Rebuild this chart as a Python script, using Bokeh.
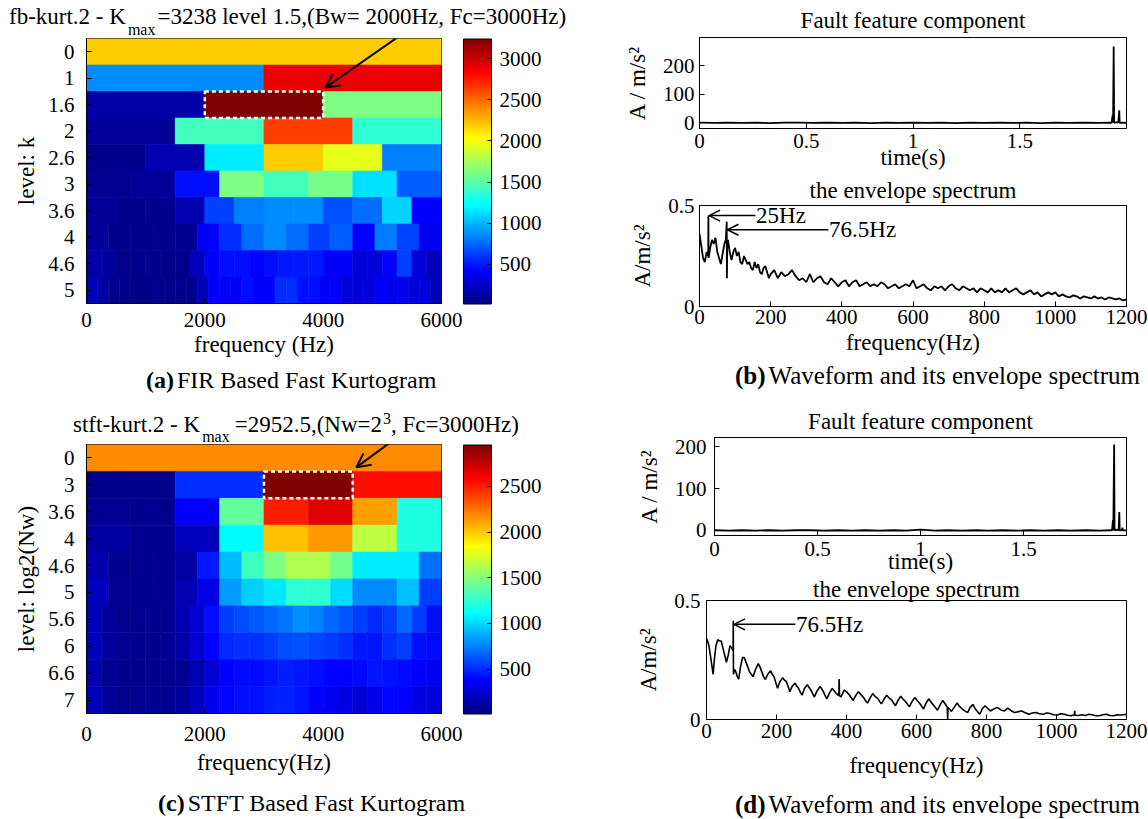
from bokeh.plotting import figure
from bokeh.models import (ColumnDataSource, LinearColorMapper, ColorBar, FixedTicker,
                          Label, Arrow, OpenHead, Range1d, Div, Title)
from bokeh.layouts import row, column
from bokeh.embed import file_html
from bokeh.resources import INLINE

SERIF = "Liberation Serif"

# ---------------- data : FIR based fast kurtogram (a) ----------------
fb_levels = ["0", "1", "1.6", "2", "2.6", "3", "3.6", "4", "4.6", "5"]
fb_row_0 = [2192]
fb_row_1 = [873, 2892]
fb_row_16 = [150, 3238, 1629]
fb_row_2 = [100, 1428, 2635, 1370]
fb_row_26 = [70, 180, 1170, 2192, 1950, 825]
fb_row_3 = [90, 100, 470, 1629, 1428, 1600, 1130, 720]
fb_row_36 = [100, 60, 60, 180, 630, 825, 870, 870, 680, 770, 1100, 430]
fb_row_4 = [120, 60, 60, 60, 80, 400, 570, 770, 870, 770, 630, 720, 420, 820, 630, 370]
fb_row_46 = [150, 120, 60, 60, 60, 60, 60, 200, 400, 460, 460, 420,
             460, 510, 510, 510, 400, 400, 300, 300, 420, 630, 300, 200]
fb_row_5 = [200, 150, 70, 60, 50, 50, 60, 60, 70, 80, 200, 400, 400, 400, 460, 420,
            420, 570, 570, 460, 460, 400, 400, 300, 300, 300, 420, 360, 360, 300, 300, 200]
fb_rows = [fb_row_0, fb_row_1, fb_row_16, fb_row_2, fb_row_26,
           fb_row_3, fb_row_36, fb_row_4, fb_row_46, fb_row_5]
fb_low, fb_high = 20, 3238
fb_cb_ticks = [500, 1000, 1500, 2000, 2500, 3000]

# ---------------- data : STFT based fast kurtogram (c) ----------------
st_levels = ["0", "3", "3.6", "4", "4.6", "5", "5.6", "6", "6.6", "7"]
st_row_0 = [2172]
st_row_3 = [50, 510, 2952.5, 2540]
st_row_36 = [65, 65, 376, 1389, 2493, 2674, 2122, 1204]
st_row_4 = [102, 60, 192, 1112, 2032, 2142, 1664, 1204]
st_row_46 = [140, 60, 60, 60, 120, 450, 925, 1290, 1480, 1620, 1620, 1440, 1060, 1060, 1060, 700]
st_row_5 = [190, 70, 60, 60, 150, 310, 830, 980, 1050, 1250, 1250, 1010, 780, 780, 930, 560]
st_row_56 = [170, 80, 60, 60, 60, 70, 150, 250, 420, 560, 600, 640,
             680, 720, 800, 760, 680, 620, 560, 500, 560, 680, 560, 420]
st_row_6 = [190, 90, 70, 60, 60, 70, 130, 250, 380, 500, 520, 520,
            560, 600, 610, 580, 560, 520, 450, 440, 520, 560, 420, 400]
st_row_66 = [140, 70, 50, 50, 50, 60, 70, 150, 260, 380, 400, 400,
             440, 460, 440, 420, 380, 380, 400, 440, 430, 400, 370, 350]
st_row_7 = [170, 80, 60, 60, 60, 70, 90, 200, 330, 390, 420, 430,
            460, 470, 440, 380, 340, 300, 250, 320, 390, 380, 300, 280]
st_rows = [st_row_0, st_row_3, st_row_36, st_row_4, st_row_46,
           st_row_5, st_row_56, st_row_6, st_row_66, st_row_7]
st_low, st_high = 8, 2952.5
st_cb_ticks = [500, 1000, 1500, 2000, 2500]

# ---------------- data : waveform (b) ----------------
wave_b_t = [0, 0.07, 0.13, 0.2, 0.27, 0.33, 0.4, 0.47, 0.53, 0.6,
            0.67, 0.73, 0.8, 0.87, 0.93, 1.0, 1.07, 1.13, 1.2, 1.27,
            1.33, 1.4, 1.47, 1.53, 1.6, 1.67, 1.73, 1.8, 1.87, 1.925,
            1.93, 1.935, 1.937, 1.94, 1.942, 1.95, 1.962, 1.966, 1.968, 1.98, 2.0]
wave_b_a = [0.5, -0.5, 1, -0.5, 0.5, -1, 0.5, 1, -0.5, 0.5,
            -0.5, 1, -1, 0.5, -0.5, 1, -0.5, 0.5, -1, 0.5,
            -0.5, 1, -0.5, 0.5, -1, 0.5, -0.5, 1, -0.5, 0.5,
            0, 26, 0, 268, 0, 2, 1, 44, 0, 1, 0]

# ---------------- data : envelope spectrum (b) ----------------
env_b_f = [0, 5, 10, 15, 20, 24.5, 25, 25.5, 30, 35,
           40, 45, 50, 55, 60, 65, 70, 74, 76.5, 77,
           78, 80, 85, 90, 95, 100, 105, 110, 115, 120,
           125, 130, 135, 140, 145, 150, 155, 160, 165, 170,
           175, 180, 185, 190, 195, 200,
           210, 220, 230, 240, 250, 260, 270, 280, 290, 300,
           310, 320, 330, 340, 350, 360, 370, 380, 390, 400,
           410, 420, 430, 440, 450, 460, 470, 480, 490, 500,
           510, 520, 530, 540, 550, 560, 570, 580, 590, 600,
           610, 620, 630, 640, 650, 660, 670, 680, 690, 700,
           710, 720, 730, 740, 750, 760, 770, 780, 790, 800,
           810, 820, 830, 840, 850, 860, 870, 880, 890, 900,
           910, 920, 930, 940, 950, 960, 970, 980, 990, 1000,
           1010, 1020, 1030, 1040, 1050, 1060, 1070, 1080, 1090, 1100,
           1110, 1120, 1130, 1140, 1150, 1160, 1170, 1180, 1190, 1200]
env_b_a = [0.36, 0.30, 0.24, 0.22, 0.27, 0.25, 0.45, 0.24, 0.29, 0.33,
           0.31, 0.34, 0.27, 0.24, 0.21, 0.26, 0.31, 0.33, 0.42, 0.14,
           0.30, 0.33, 0.27, 0.23, 0.27, 0.29, 0.25, 0.27, 0.22, 0.21,
           0.25, 0.23, 0.21, 0.22, 0.19, 0.18, 0.22, 0.19, 0.21, 0.17,
           0.16, 0.19, 0.20, 0.17, 0.14, 0.16,
           0.18, 0.14, 0.17, 0.15, 0.16, 0.18, 0.15, 0.13, 0.14, 0.12,
           0.16, 0.12, 0.14, 0.15, 0.12, 0.11, 0.14, 0.12, 0.10, 0.12,
           0.13, 0.10, 0.12, 0.13, 0.10, 0.11, 0.12, 0.10, 0.11, 0.10,
           0.12, 0.11, 0.09, 0.10, 0.11, 0.09, 0.10, 0.11, 0.10, 0.13,
           0.09, 0.10, 0.11, 0.09, 0.08, 0.10, 0.09, 0.10, 0.08, 0.10,
           0.11, 0.09, 0.08, 0.10, 0.09, 0.08, 0.09, 0.07, 0.09, 0.08,
           0.07, 0.09, 0.07, 0.08, 0.07, 0.09, 0.07, 0.08, 0.09, 0.07,
           0.06, 0.07, 0.08, 0.06, 0.07, 0.05, 0.06, 0.07, 0.06, 0.07,
           0.05, 0.06, 0.05, 0.045, 0.055, 0.05, 0.04, 0.05, 0.045, 0.04,
           0.05, 0.04, 0.045, 0.035, 0.045, 0.04, 0.035, 0.04, 0.03, 0.035]
peaks_b_f = [25, 76.5]
peaks_b_txt = ["25Hz", "76.5Hz"]

# ---------------- data : waveform (d) ----------------
wave_d_t = [0, 0.07, 0.13, 0.2, 0.27, 0.33, 0.4, 0.47, 0.53, 0.6,
            0.67, 0.73, 0.8, 0.87, 0.93, 1.0, 1.07, 1.13, 1.2, 1.27,
            1.33, 1.4, 1.47, 1.53, 1.6, 1.67, 1.73, 1.8, 1.87, 1.925,
            1.93, 1.934, 1.936, 1.94, 1.942, 1.95, 1.962, 1.965, 1.967, 1.978,
            1.98, 1.982, 2.0]
wave_d_a = [0.5, -0.5, 0.5, -0.5, 0.5, -0.5, 0.5, 0.5, -0.5, 0.5,
            -0.5, 0.5, -0.5, 0.5, -0.5, 2, -0.5, 0.5, -0.5, 0.5,
            -0.5, 0.5, -0.5, 0.5, -0.5, 0.5, -0.5, 0.5, -0.5, 0.5,
            0, 25, 0, 205, 0, 2, 1, 44, 0, 1,
            7, 0, 0]

# ---------------- data : envelope spectrum (d) ----------------
env_d_f = [0, 3, 7, 11, 15, 19, 23, 27, 32, 37,
           42, 47, 52, 57, 62, 67, 72, 76, 76.5, 77,
           80, 84, 88, 92, 97, 103, 108, 113, 118, 123,
           128, 133, 140, 148, 153, 158, 163, 168, 175, 183,
           188, 193, 198, 203, 210, 218, 223, 228, 233, 238,
           245, 253, 258, 263, 268, 273, 280, 288, 293, 298,
           303, 308, 316, 324, 329, 334, 339, 344, 351, 359,
           365, 371, 378, 379, 380, 384, 389, 394, 401, 409,
           414, 419, 426, 434, 441, 449, 454, 460, 467, 475,
           482, 490, 495, 500, 507, 515, 522, 530, 535, 540,
           547, 555, 562, 570, 575, 580, 587, 595, 602, 610,
           615, 620, 627, 635, 642, 650, 655, 660, 667, 675,
           682, 688, 689, 690, 694, 700, 708, 716, 723, 731,
           738, 746, 753, 761, 766, 771, 776, 781, 788, 796,
           803, 811, 821, 831, 841, 851, 861, 871, 881, 891,
           901, 911, 921, 931, 941, 951, 962, 972, 982, 992,
           1002, 1012, 1022, 1032, 1042, 1051, 1052, 1053, 1062, 1072,
           1082, 1092, 1102, 1112, 1122, 1132, 1143, 1153, 1163, 1173,
           1183, 1192, 1200]
env_d_a = [0.34, 0.33, 0.31, 0.27, 0.23, 0.19, 0.26, 0.31, 0.335, 0.33,
           0.33, 0.30, 0.27, 0.24, 0.27, 0.31, 0.30, 0.29, 0.415, 0.19,
           0.21, 0.20, 0.18, 0.17, 0.22, 0.26, 0.26, 0.24, 0.22, 0.20,
           0.19, 0.18, 0.21, 0.235, 0.22, 0.20, 0.18, 0.168, 0.19, 0.205,
           0.19, 0.18, 0.155, 0.131, 0.16, 0.175, 0.165, 0.16, 0.14, 0.117,
           0.14, 0.153, 0.14, 0.131, 0.115, 0.102, 0.13, 0.146, 0.135, 0.124,
           0.11, 0.095, 0.12, 0.138, 0.13, 0.117, 0.10, 0.087, 0.11, 0.131,
           0.12, 0.109, 0.10, 0.17, 0.10, 0.095, 0.11, 0.124, 0.115, 0.102,
           0.09, 0.08, 0.10, 0.117, 0.105, 0.092, 0.08, 0.069, 0.09, 0.109,
           0.097, 0.087, 0.075, 0.066, 0.085, 0.102, 0.09, 0.08, 0.068, 0.058,
           0.08, 0.098, 0.085, 0.073, 0.062, 0.054, 0.075, 0.092, 0.08, 0.066,
           0.055, 0.044, 0.068, 0.087, 0.072, 0.058, 0.048, 0.039, 0.06, 0.08,
           0.065, 0.051, 0.0, 0.05, 0.045, 0.034, 0.052, 0.069, 0.055, 0.044,
           0.036, 0.029, 0.05, 0.063, 0.05, 0.039, 0.03, 0.022, 0.045, 0.058,
           0.047, 0.036, 0.044, 0.051, 0.04, 0.036, 0.048, 0.036, 0.029, 0.033,
           0.036, 0.028, 0.022, 0.027, 0.029, 0.024, 0.022, 0.027, 0.025, 0.02,
           0.019, 0.024, 0.022, 0.018, 0.016, 0.02, 0.036, 0.018, 0.017, 0.02,
           0.017, 0.022, 0.02, 0.016, 0.016, 0.02, 0.022, 0.017, 0.016, 0.02,
           0.019, 0.02, 0.022]
peaks_d_f = [76.5]
peaks_d_txt = ["76.5Hz"]


# ---------------- helpers ----------------
def jet(n=256):
    cols = []
    for i in range(n):
        t = i / (n - 1)
        r = min(max(min(4 * t - 1.5, -4 * t + 4.5), 0), 1)
        g = min(max(min(4 * t - 0.5, -4 * t + 3.5), 0), 1)
        b = min(max(min(4 * t + 0.5, -4 * t + 2.5), 0), 1)
        cols.append("#%02x%02x%02x" % (round(r * 255), round(g * 255), round(b * 255)))
    return cols


JET = jet()


def base_fig(width, height, bl, br, bt, bb, xr, yr):
    p = figure(width=width, height=height, x_range=xr, y_range=yr,
               output_backend="svg", toolbar_location=None, tools="", title=None,
               min_border_left=bl, min_border_right=br,
               min_border_top=bt, min_border_bottom=bb)
    try:
        p.frame_align = False
    except Exception:
        pass
    p.grid.visible = False
    p.outline_line_color = "black"
    p.outline_line_width = 1
    p.background_fill_color = "white"
    p.border_fill_color = "white"
    for ax in (p.xaxis[0], p.yaxis[0]):
        ax.major_tick_in = 5
        ax.major_tick_out = 0
        ax.minor_tick_line_color = None
        ax.axis_line_color = "black"
        ax.major_tick_line_color = "black"
        ax.major_label_text_font = SERIF
        ax.major_label_text_font_size = "21px"
        ax.major_label_text_color = "black"
        ax.axis_label_text_font = SERIF
        ax.axis_label_text_font_size = "23px"
        ax.axis_label_text_font_style = "normal"
        ax.axis_label_text_color = "black"
    return p


def set_title(p, text, standoff):
    p.title = Title(text=text, align="center", text_font=SERIF, text_font_size="23px",
                    text_font_style="normal", text_color="black", standoff=standoff)


def html_div(html, width, height):
    return Div(text=html, width=width, height=height, margin=(0, 0, 0, 0))


BASE = ("font-family:'Liberation Serif','Times New Roman',serif; color:black; "
        "white-space:nowrap; margin:0;")


def kurtogram(rows, levels, low, high, cb_ticks, height, bt, bb):
    p = base_fig(600, height, 86, 159, bt, bb, Range1d(0, 6000), Range1d(len(rows), 0))
    left, right, top, bottom, val = [], [], [], [], []
    for i, vals in enumerate(rows):
        n = len(vals)
        for k, v in enumerate(vals):
            left.append(6000 * k / n)
            right.append(6000 * (k + 1) / n)
            top.append(i)
            bottom.append(i + 1)
            val.append(v)
    src = ColumnDataSource(dict(left=left, right=right, top=top, bottom=bottom, val=val))
    mapper = LinearColorMapper(palette=JET, low=low, high=high)
    p.quad(left="left", right="right", top="top", bottom="bottom", source=src,
           fill_color={"field": "val", "transform": mapper},
           line_color={"field": "val", "transform": mapper}, line_width=0.6)
    im = max(range(len(val)), key=lambda j: val[j])
    p.quad(left=[left[im]], right=[right[im]], top=[top[im]], bottom=[bottom[im]],
           fill_color=None, line_color="white", line_dash="4 3", line_width=2.5)
    p.xaxis.ticker = FixedTicker(ticks=[0, 2000, 4000, 6000])
    p.yaxis.ticker = FixedTicker(ticks=[i + 0.5 for i in range(len(levels))])
    p.yaxis.major_label_overrides = {i + 0.5: lv for i, lv in enumerate(levels)}
    cb = ColorBar(color_mapper=mapper, ticker=FixedTicker(ticks=cb_ticks),
                  width=28, height=height - bt - bb, location="center_left",
                  margin=0, padding=22, label_standoff=8,
                  major_label_text_font=SERIF, major_label_text_font_size="21px",
                  major_label_text_color="black",
                  major_tick_in=4, major_tick_out=0, major_tick_line_color="black",
                  bar_line_color="black", bar_line_width=1,
                  border_line_color=None, background_fill_alpha=0)
    p.add_layout(cb, "right")
    return p, left[im], right[im], top[im]


# ---------------- (a) ----------------
div_ta = html_div(
    f'<div style="{BASE} font-size:23px; line-height:26px; padding:4px 0 0 9px;">'
    'fb-kurt.2 - K<span style="font-size:16px; position:relative; top:11px; '
    'margin:0 2px 0 2px;">max</span>=3238 level 1.5,(Bw= 2000Hz, Fc=3000Hz)</div>', 600, 36)
pa, a_l, a_r, a_t = kurtogram(fb_rows, fb_levels, fb_low, fb_high, fb_cb_ticks, 330, 2, 63)
pa.xaxis.axis_label = "frequency (Hz)"
pa.yaxis.axis_label = "level: k"
pa.xaxis.major_label_standoff = 9
pa.xaxis.axis_label_standoff = 2
pa.yaxis.major_label_standoff = 12
pa.yaxis.axis_label_standoff = 6
pa.add_layout(Arrow(end=OpenHead(size=14, line_width=2, line_color="black"),
                    x_start=a_r + 1420, y_start=a_t - 2.3, x_end=a_r + 40, y_end=a_t - 0.15,
                    line_width=2, line_color="black"))
div_ca = html_div(
    f'<div style="{BASE} font-size:24px; line-height:28px; padding-left:146px;">'
    '<b>(a)</b><span style="margin-left:3px;">FIR Based Fast Kurtogram</span></div>', 600, 28)

# ---------------- (c) ----------------
div_tc = html_div(
    f'<div style="{BASE} font-size:23px; line-height:26px; padding:18px 0 0 73px;">'
    'stft-kurt.2 - K<span style="font-size:16px; position:relative; top:10px; '
    'margin:0 5px 0 2px;">max</span>=2952.5,(Nw=2<span style="font-size:16px; '
    'position:relative; top:-8px; margin-left:1px;">3</span>, Fc=3000Hz)</div>', 600, 48)
pc, c_l, c_r, c_t = kurtogram(st_rows, st_levels, st_low, st_high, st_cb_ticks, 347, 2, 76)
pc.xaxis.axis_label = "frequency(Hz)"
pc.yaxis.axis_label = "level: log2(Nw)"
pc.xaxis.major_label_standoff = 13
pc.xaxis.axis_label_standoff = 6
pc.yaxis.major_label_standoff = 12
pc.yaxis.axis_label_standoff = 6
pc.add_layout(Arrow(end=OpenHead(size=14, line_width=2, line_color="black"),
                    x_start=c_r + 740, y_start=c_t - 1.25, x_end=c_r + 60, y_end=c_t - 0.15,
                    line_width=2, line_color="black"))
div_cc = html_div(
    f'<div style="{BASE} font-size:24px; line-height:28px; padding-left:158px;">'
    '<b>(c)</b><span style="margin-left:3px;">STFT Based Fast Kurtogram</span></div>', 600, 30)


def fixed_labels(ax, ticks, labels):
    ax.ticker = FixedTicker(ticks=ticks)
    ax.major_label_overrides = dict(zip(ticks, labels))


# ---------------- (b) waveform ----------------
pb1 = base_fig(548, 172, 99, 22, 37, 41, Range1d(0, 2), Range1d(-20, 300))
pb1.line(wave_b_t, wave_b_a, line_color="black", line_width=1.8)
fixed_labels(pb1.xaxis[0], [0, 0.5, 1, 1.5], ["0", "0.5", "1", "1.5"])
fixed_labels(pb1.yaxis[0], [0, 100, 200], ["0", "100", "200"])
pb1.xaxis.axis_label = "time(s)"
pb1.yaxis.axis_label = "A / m/s²"
pb1.xaxis.major_label_standoff = 5
pb1.xaxis.axis_label_standoff = -6
pb1.yaxis.major_label_standoff = 5
pb1.yaxis.axis_label_standoff = 10
set_title(pb1, "Fault feature component", 10)

# ---------------- (b) envelope spectrum ----------------
pb2 = base_fig(548, 190, 99, 22, 32, 56, Range1d(0, 1200), Range1d(0, 0.5))
pb2.line(env_b_f, env_b_a, line_color="black", line_width=1.8)
fixed_labels(pb2.xaxis[0], [0, 200, 400, 600, 800, 1000, 1200],
             ["0", "200", "400", "600", "800", "1000", "1200"])
fixed_labels(pb2.yaxis[0], [0, 0.5], ["0", "0.5"])
pb2.xaxis.axis_label = "frequency(Hz)"
pb2.yaxis.axis_label = "A/m/s²"
pb2.xaxis.major_label_standoff = 3
pb2.xaxis.axis_label_standoff = 3
pb2.yaxis.major_label_standoff = 5
pb2.yaxis.axis_label_standoff = 10
for f, t, ya, tail in zip(peaks_b_f, peaks_b_txt, [0.45, 0.38], [157, 362]):
    pb2.add_layout(Arrow(end=OpenHead(size=11, line_width=1.5, line_color="black"),
                         x_start=tail, y_start=ya, x_end=f + 2, y_end=ya,
                         line_width=1.5, line_color="black"))
    pb2.add_layout(Label(x=tail + 2, y=ya, text=t, text_font=SERIF, text_font_size="23px",
                         text_baseline="middle", text_align="left", text_color="black"))
set_title(pb2, "the envelope spectrum", 6)
div_cb = html_div(
    f'<div style="{BASE} font-size:25px; line-height:28px; padding-left:135px;">'
    '<b>(b)</b><span style="margin-left:3px;">Waveform and its envelope spectrum</span></div>',
    548, 28)

# ---------------- (d) waveform ----------------
pd1 = base_fig(548, 186, 114, 22, 47, 39, Range1d(0, 2), Range1d(-12, 222))
pd1.line(wave_d_t, wave_d_a, line_color="black", line_width=1.8)
fixed_labels(pd1.xaxis[0], [0, 0.5, 1, 1.5], ["0", "0.5", "1", "1.5"])
fixed_labels(pd1.yaxis[0], [0, 100, 200], ["0", "100", "200"])
pd1.xaxis.axis_label = "time(s)"
pd1.yaxis.axis_label = "A / m/s²"
pd1.xaxis.major_label_standoff = 6
pd1.xaxis.axis_label_standoff = -10
pd1.yaxis.major_label_standoff = 8
pd1.yaxis.axis_label_standoff = 10
set_title(pd1, "Fault feature component", 8)

# ---------------- (d) envelope spectrum ----------------
pd2 = base_fig(548, 215, 106, 22, 23, 72, Range1d(0, 1200), Range1d(0, 0.5))
pd2.line(env_d_f, env_d_a, line_color="black", line_width=1.6)
fixed_labels(pd2.xaxis[0], [0, 200, 400, 600, 800, 1000, 1200],
             ["0", "200", "400", "600", "800", "1000", "1200"])
fixed_labels(pd2.yaxis[0], [0, 0.5], ["0", "0.5"])
pd2.xaxis.axis_label = "frequency(Hz)"
pd2.yaxis.axis_label = "A/m/s²"
pd2.xaxis.major_label_standoff = 4
pd2.xaxis.axis_label_standoff = 12
pd2.yaxis.major_label_standoff = 6
pd2.yaxis.axis_label_standoff = 10
for f, t, ya, tail in zip(peaks_d_f, peaks_d_txt, [0.40], [254]):
    pd2.add_layout(Arrow(end=OpenHead(size=11, line_width=1.5, line_color="black"),
                         x_start=tail, y_start=ya, x_end=f + 2, y_end=ya,
                         line_width=1.5, line_color="black"))
    pd2.add_layout(Label(x=tail + 2, y=ya, text=t, text_font=SERIF, text_font_size="23px",
                         text_baseline="middle", text_align="left", text_color="black"))
set_title(pd2, "the envelope spectrum", -3)
div_cd = html_div(
    f'<div style="{BASE} font-size:25px; line-height:28px; padding-left:135px;">'
    '<b>(d)</b><span style="margin-left:3px;">Waveform and its envelope spectrum</span></div>',
    548, 28)

layout = row(column(div_ta, pa, div_ca, div_tc, pc, div_cc, spacing=0),
             column(pb1, pb2, div_cb, pd1, pd2, div_cd, spacing=0), spacing=0)

open("out.html", "w").write(file_html(layout, INLINE, title="Fast Kurtogram"))
